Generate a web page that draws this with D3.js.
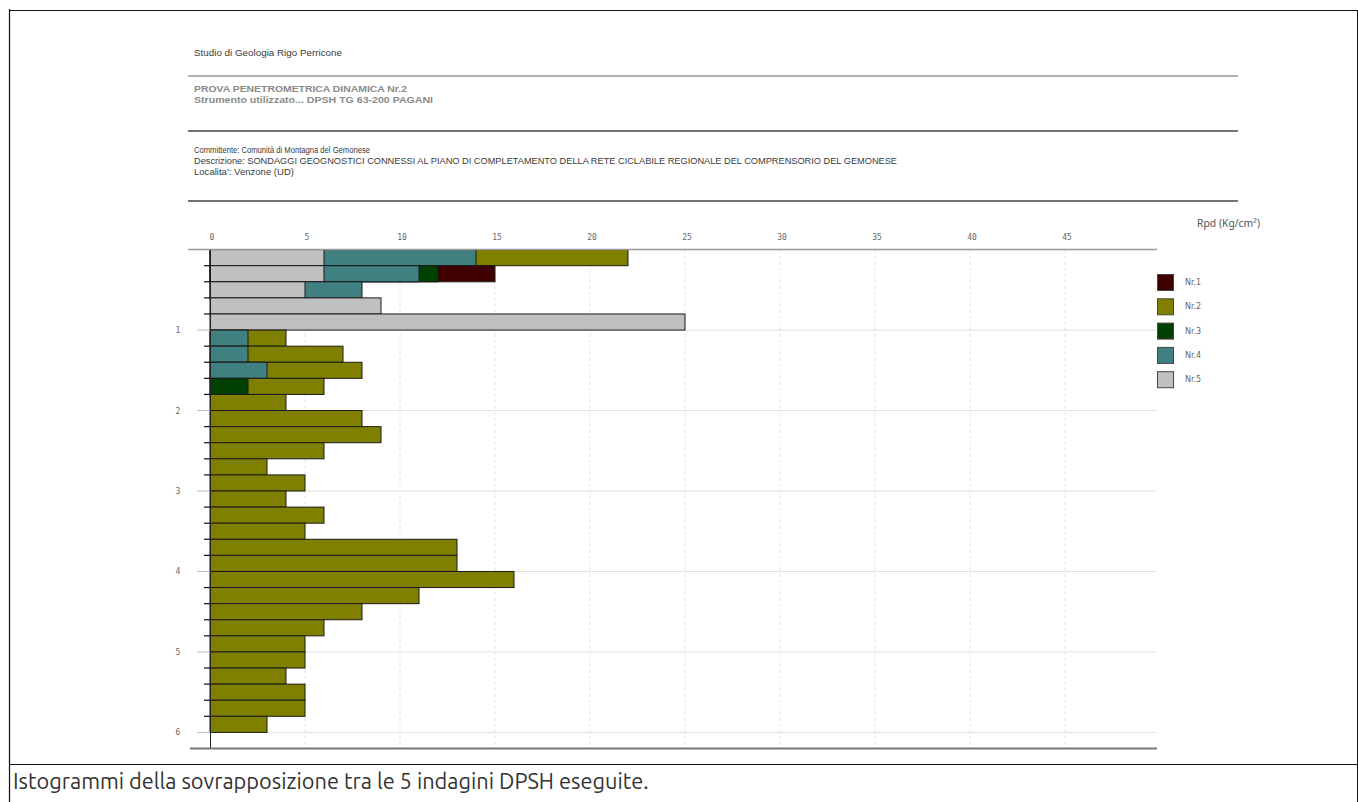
<!DOCTYPE html>
<html><head><meta charset="utf-8">
<script src="https://cdn.jsdelivr.net/npm/d3@7"></script>
<style>
html,body{margin:0;padding:0;background:#fff;}
svg{display:block;}
</style></head>
<body>
<svg id="chart" width="1358" height="802"></svg>
<script>
// ---- data ----
const seriesNames = ["Nr.1","Nr.2","Nr.3","Nr.4","Nr.5"];
const seriesColors = ["#400000","#808000","#004000","#408080","#c0c0c0"];
const depthStep = 0.2;
// values per 0.2 m step (null = not visible)
const nr1 = [null,15];
const nr2 = [22,null,null,null,null,4,7,8,6,4,8,9,6,3,5,4,6,5,13,13,16,11,8,6,5,5,4,5,5,3];
const nr3 = [null,12,null,null,null,null,null,null,2];
const nr4 = [14,11,8,null,null,2,2,3];
const nr5 = [6,6,5,9,25];
const xTicks = [0,5,10,15,20,25,30,35,40,45];
const yTicks = [1,2,3,4,5,6];
const headerLines = [
  "Studio di Geologia Rigo Perricone",
  "PROVA PENETROMETRICA DINAMICA Nr.2",
  "Strumento utilizzato... DPSH TG 63-200 PAGANI",
  "Committente: Comunità di Montagna del Gemonese",
  "Descrizione: SONDAGGI GEOGNOSTICI CONNESSI AL PIANO DI COMPLETAMENTO DELLA RETE CICLABILE REGIONALE DEL COMPRENSORIO DEL GEMONESE",
  "Localita': Venzone (UD)"
];
const axisTitle = "Rpd (Kg/cm²)";
const caption = "Istogrammi della sovrapposizione tra le 5 indagini DPSH eseguite.";

const allSeries = [nr1,nr2,nr3,nr4,nr5];

const svg = d3.select("#chart");

function fit(sel, w){
  const n = sel.node();
  const cur = n.getComputedTextLength();
  const fs = parseFloat(sel.attr("font-size"));
  const nf = fs*w/cur;
  sel.attr("font-size", nf.toFixed(2));
  return nf;
}

// frame
svg.append("line").attr("x1",9.5).attr("x2",9.5).attr("y1",9).attr("y2",802).attr("stroke","#111").attr("stroke-width",1.2);
svg.append("line").attr("x1",9).attr("x2",1358).attr("y1",10.5).attr("y2",10.5).attr("stroke","#111").attr("stroke-width",1.2);
svg.append("line").attr("x1",1357.5).attr("x2",1357.5).attr("y1",10).attr("y2",802).attr("stroke","#111").attr("stroke-width",1);
svg.append("line").attr("x1",9).attr("x2",1358).attr("y1",764.5).attr("y2",764.5).attr("stroke","#111").attr("stroke-width",1.2);

// caption
const cap = svg.append("text").attr("x",13).attr("y",789).attr("font-family","Ubuntu, 'Noto Sans', sans-serif")
  .attr("font-size",18).attr("fill","#333").text(caption);
fit(cap, 636);

// header
const hFont = "'Liberation Sans', Arial, sans-serif";
const hSpecs = [
  {y:56, w:148, fill:"#3a3a3a", bold:false, fs:8.5},
  {y:92, w:213, fill:"#8a8a8a", bold:true, fs:8.5},
  {y:103, w:239, fill:"#8a8a8a", bold:true, fs:8.5},
  {y:153, w:176, fill:"#3a3a3a", bold:false, fs:8.5},
  {y:164, w:703, fill:"#3a3a3a", bold:false, fs:8.5},
  {y:175, w:100, fill:"#3a3a3a", bold:false, fs:8.5}
];
headerLines.forEach((t,i)=>{
  const s = hSpecs[i];
  svg.append("text").attr("x",194).attr("y",s.y).attr("font-family",hFont)
    .attr("font-size",s.fs).attr("font-weight",s.bold?"bold":"normal").attr("fill",s.fill)
    .attr("textLength", s.w).attr("lengthAdjust","spacingAndGlyphs").text(t);
});
svg.append("line").attr("x1",188).attr("x2",1238).attr("y1",76).attr("y2",76).attr("stroke","#999").attr("stroke-width",1.5);
svg.append("line").attr("x1",188).attr("x2",1238).attr("y1",131).attr("y2",131).attr("stroke","#444").attr("stroke-width",1.5);
svg.append("line").attr("x1",188).attr("x2",1238).attr("y1",201).attr("y2",201).attr("stroke","#444").attr("stroke-width",1.5);

// scales
const x = d3.scaleLinear().domain([0,50]).range([210,1160]);
const y = d3.scaleLinear().domain([0,6.2]).range([249.6,748.5]);
const xEnd = 1157;

// grid
const g = svg.append("g");
g.selectAll(".vg").data(xTicks.filter(d=>d>0)).join("line")
  .attr("x1",d=>x(d)).attr("x2",d=>x(d)).attr("y1",y(0)).attr("y2",y(6.2))
  .attr("stroke","#e2e2e2").attr("stroke-dasharray","3,3");
g.selectAll(".hg").data(yTicks).join("line")
  .attr("x1",x(0)).attr("x2",xEnd).attr("y1",d=>y(d)).attr("y2",d=>y(d))
  .attr("stroke","#e0e0e0");

// bars
const nRows = d3.max(allSeries, s=>s.length);
const rows = d3.range(nRows).map(i=>{
  const items = allSeries.map((s,k)=>({k, v: s[i]})).filter(d=>d.v!=null);
  items.sort((a,b)=>b.v-a.v);
  return {i, items};
});
const barsG = svg.append("g");
rows.forEach(r=>{
  r.items.forEach(it=>{
    barsG.append("rect")
      .attr("x",x(0)).attr("y",y(r.i*depthStep))
      .attr("width",x(it.v)-x(0)).attr("height",y(depthStep)-y(0))
      .attr("fill",seriesColors[it.k]).attr("stroke","#1a1a1a").attr("stroke-width",1);
  });
});

// y axis line
svg.append("line").attr("x1",x(0)+0.5).attr("x2",x(0)+0.5).attr("y1",y(0)).attr("y2",y(6.2)).attr("stroke","#222").attr("stroke-width",1);
// minor ticks
const minor = d3.range(1,31).map(i=>i*depthStep).filter(d=>Math.abs(d-Math.round(d))>1e-6);
svg.selectAll(".mt").data(minor).join("line")
  .attr("x1",204).attr("x2",x(0)).attr("y1",d=>y(d)).attr("y2",d=>y(d))
  .attr("stroke","#111").attr("stroke-width",1.2);
svg.selectAll(".it").data(yTicks).join("line")
  .attr("x1",197).attr("x2",x(0)).attr("y1",d=>y(d)).attr("y2",d=>y(d))
  .attr("stroke","#bbb").attr("stroke-width",1);
svg.selectAll(".yl").data(yTicks).join("text")
  .attr("x",178).attr("y",d=>y(d)+3).attr("text-anchor","middle")
  .attr("font-family","'DejaVu Sans Mono', monospace").attr("font-size",8).attr("fill","#666")
  .text(d=>d);

// x axis (top)
svg.append("line").attr("x1",188).attr("x2",xEnd).attr("y1",249.5).attr("y2",249.5).attr("stroke","#999").attr("stroke-width",1.5);
svg.append("line").attr("x1",190).attr("x2",xEnd).attr("y1",748.5).attr("y2",748.5).attr("stroke","#777").attr("stroke-width",2);
svg.selectAll(".xl").data(xTicks).join("text")
  .attr("x",d=>x(d)+2).attr("y",240).attr("text-anchor","middle")
  .attr("font-family","'DejaVu Sans Mono', monospace").attr("font-size",8).attr("fill","#666")
  .text(d=>d);
const at = svg.append("text").attr("x",1197).attr("y",227).attr("font-family","'Noto Sans', sans-serif")
  .attr("font-size",9).attr("fill","#555").text(axisTitle);
fit(at, 63);

// legend
const lg = svg.append("g");
seriesNames.forEach((n,i)=>{
  lg.append("rect").attr("x",1157.5).attr("y",274.5+i*24.3).attr("width",16).attr("height",16)
    .attr("fill",seriesColors[i]).attr("stroke","#444").attr("stroke-width",1);
  lg.append("text").attr("x",1185).attr("y",285+i*24.3).attr("font-family","'DejaVu Sans', sans-serif")
    .attr("font-size",8).attr("fill","#666").text(n);
});
</script>
</body></html>
